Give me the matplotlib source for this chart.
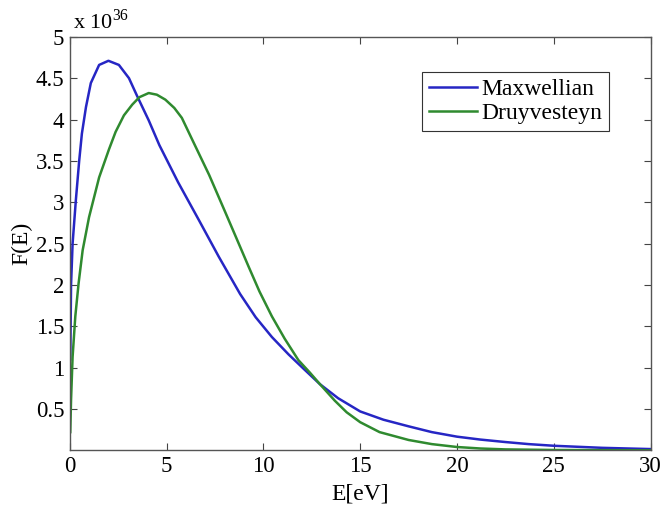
import matplotlib
matplotlib.use("Agg")
import matplotlib.pyplot as plt

# energy distribution values, F in units of 1e36
E_max = [0.03, 0.07, 0.15, 0.32, 0.49, 0.63, 0.84, 1.09, 1.52, 2.0, 2.54, 3.06,
         3.49, 4.08, 4.63, 5.6, 6.68, 7.7, 8.8, 9.6, 10.44, 11.3, 12.15, 12.92,
         13.86, 15.0, 16.2, 17.5, 18.7, 20.0, 21.2, 22.5, 23.7, 25.0, 27.5, 30.0]
F_max = [1.1, 2.0, 2.5, 3.03, 3.5, 3.83, 4.15, 4.44, 4.66, 4.71, 4.66, 4.5,
         4.28, 3.99, 3.69, 3.24, 2.78, 2.34, 1.89, 1.61, 1.37, 1.16, 0.97, 0.8,
         0.63, 0.47, 0.37, 0.29, 0.22, 0.165, 0.13, 0.1, 0.075, 0.055, 0.03, 0.015]

E_dru = [0.03, 0.07, 0.15, 0.29, 0.46, 0.67, 1.0, 1.52, 2.03, 2.37, 2.8, 3.23,
         3.6, 4.08, 4.5, 4.94, 5.4, 5.79, 6.34, 7.2, 8.05, 8.6, 9.24, 9.8, 10.44,
         11.1, 11.81, 12.4, 12.92, 13.69, 14.3, 15.0, 16.0, 17.5, 18.7, 20.0,
         21.2, 22.5, 25.0, 30.0]
F_dru = [0.22, 0.61, 1.13, 1.62, 2.02, 2.42, 2.82, 3.3, 3.64, 3.85, 4.05, 4.18,
         4.27, 4.32, 4.3, 4.24, 4.14, 4.02, 3.75, 3.33, 2.87, 2.57, 2.22, 1.92,
         1.62, 1.35, 1.09, 0.94, 0.8, 0.6, 0.46, 0.34, 0.22, 0.125, 0.075, 0.04,
         0.022, 0.011, 0.004, 0.0]

xticks = [0, 5, 10, 15, 20, 25, 30]
yticks = [0.5, 1, 1.5, 2, 2.5, 3, 3.5, 4, 4.5, 5]
ytick_labels = ["0.5", "1", "1.5", "2", "2.5", "3", "3.5", "4", "4.5", "5"]

plt.rcParams["font.family"] = "Liberation Serif"
plt.rcParams["mathtext.fontset"] = "custom"
plt.rcParams["mathtext.rm"] = "Liberation Serif"

fig = plt.figure(figsize=(6.65, 5.14), dpi=100)
ax = fig.add_axes([0.1048, 0.1239, 0.8737, 0.8045])

ax.plot(E_max, F_max, color="#2626c4", lw=1.8, label="Maxwellian")
ax.plot(E_dru, F_dru, color="#2f8a2f", lw=1.8, label="Druyvesteyn")

ax.set_xlim(0, 30)
ax.set_ylim(0, 5)
ax.set_xticks(xticks)
ax.set_yticks(yticks)
ax.set_yticklabels(ytick_labels)
ax.tick_params(direction="in", length=5, width=0.8, labelsize=16.5,
               top=True, right=True, colors="#444444", labelcolor="black", pad=4)
for s in ax.spines.values():
    s.set_color("#555555")
    s.set_linewidth(1.0)

ax.set_xlabel("E[eV]", fontsize=17, labelpad=5)
ax.set_ylabel("F(E)", fontsize=17, labelpad=2)
ax.text(0.005, 1.008, r"x 10$^{\mathrm{36}}$", transform=ax.transAxes,
        fontsize=16, ha="left", va="bottom")

leg = ax.legend(loc="upper right", bbox_to_anchor=(0.949, 0.944), fontsize=17,
                handlelength=2.0, handletextpad=0.2, borderpad=0.3,
                labelspacing=0.1, fancybox=False, framealpha=1)
leg.get_frame().set_edgecolor("#333333")
leg.get_frame().set_linewidth(0.8)

fig.savefig("out.png", dpi=100)
